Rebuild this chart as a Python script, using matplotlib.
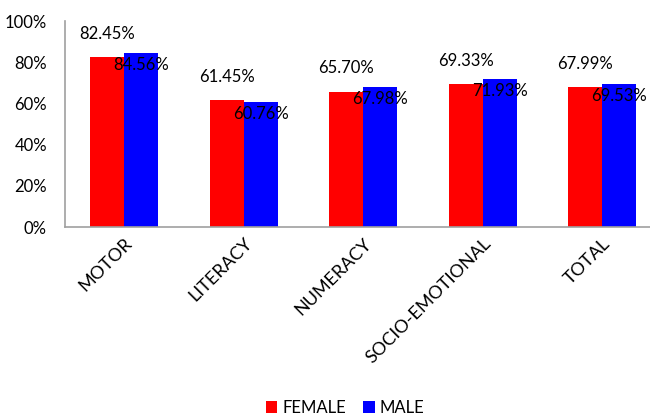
import matplotlib
matplotlib.use("Agg")
import matplotlib.pyplot as plt
import numpy as np

categories = ["MOTOR", "LITERACY", "NUMERACY", "SOCIO-EMOTIONAL", "TOTAL"]
female = [82.45, 61.45, 65.70, 69.33, 67.99]
male = [84.56, 60.76, 67.98, 71.93, 69.53]
yticks = [0, 20, 40, 60, 80, 100]

plt.rcParams['font.family'] = ['Lato', 'DejaVu Sans']

fig = plt.figure(figsize=(6.5, 4.18), dpi=100)
ax = fig.add_axes([65/650, 1-227/418, 585/650, 206/418])

x = np.arange(len(categories))
w = 0.285
bf = ax.bar(x - w/2, female, w, color="#ff0000", label="FEMALE", zorder=2)
bm = ax.bar(x + w/2, male, w, color="#0000ff", label="MALE", zorder=2)

for xi, v in zip(x, female):
    ax.annotate(f"{v:.2f}%", (xi - w/2, v), xytext=(0, 11), textcoords="offset points",
                ha="center", va="bottom", fontsize=12)
for xi, v in zip(x, male):
    ax.annotate(f"{v:.2f}%", (xi + w/2, v), xytext=(0, -3), textcoords="offset points",
                ha="center", va="top", fontsize=12)

ax.set_ylim(0, 100)
ax.set_xlim(-0.494, 4.40)
ax.set_yticks(yticks)
ax.set_yticklabels([f"{t}%" for t in yticks], fontsize=12)
ax.set_xticks(x)
ax.set_xticklabels(categories, rotation=45, ha="right", rotation_mode="anchor", fontsize=13)
ax.tick_params(axis="y", length=0, pad=13)
ax.tick_params(axis="x", length=0, pad=6)
for s in ["top", "right"]:
    ax.spines[s].set_visible(False)
for s in ["left", "bottom"]:
    ax.spines[s].set_color("#a0a0a0")
    ax.spines[s].set_linewidth(1.2)

fig.legend(handles=[bf, bm], loc="center", bbox_to_anchor=(345/650, 1-408/418), ncol=2,
           frameon=False, fontsize=12, handlelength=0.7, handleheight=0.7,
           handletextpad=0.3, columnspacing=1.0)

fig.savefig("out.png", dpi=100)
